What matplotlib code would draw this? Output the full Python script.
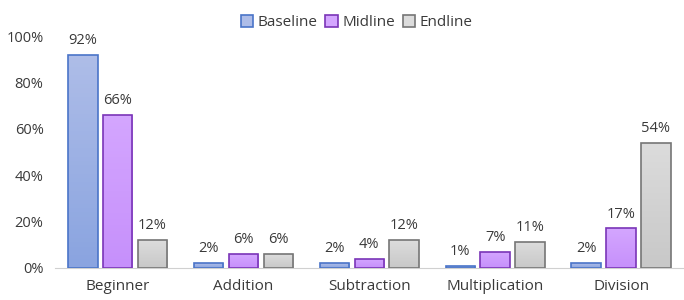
import numpy as np
import matplotlib.pyplot as plt
from matplotlib.colors import LinearSegmentedColormap
from matplotlib.patches import Patch

categories = ['Beginner', 'Addition', 'Subtraction', 'Multiplication', 'Division']
baseline = [92, 2, 2, 1, 2]
midline = [66, 6, 4, 7, 17]
endline = [12, 6, 12, 11, 54]

series = [
    ('Baseline', baseline, ('#aebde8', '#8aa4e0'), '#4a74c8'),
    ('Midline', midline, ('#d4a6ff', '#c690fb'), '#7a35b8'),
    ('Endline', endline, ('#dcdcdc', '#c8c8c8'), '#767676'),
]

plt.rcParams['font.family'] = ['Open Sans', 'DejaVu Sans']

fig = plt.figure(figsize=(6.84, 3.0), dpi=100)
ax = fig.add_axes([0.08, 0.107, 0.92, 0.773])

x = np.arange(len(categories))
width = 0.236
step = 0.277

handles = []
for i, (name, vals, grad, edge) in enumerate(series):
    pos = x + (i - 1) * step
    bars = ax.bar(pos, vals, width, facecolor='none', edgecolor=edge,
                  linewidth=1.2, zorder=3)
    cmap = LinearSegmentedColormap.from_list(name, [grad[1], grad[0]])
    # vertical gradient fill clipped to each bar
    for b in bars:
        bx, by = b.get_x(), b.get_y()
        w, h = b.get_width(), b.get_height()
        im = ax.imshow(np.linspace(0, 1, 50).reshape(-1, 1), cmap=cmap,
                       extent=[bx, bx + w, by, by + h], origin='lower',
                       aspect='auto', zorder=2)
        im.set_clip_path(b)
    for p, v in zip(pos, vals):
        ax.text(p, v + 3, f'{v}%', ha='center', va='bottom', fontsize=10.5,
                color='#3a3a3a')
    handles.append(Patch(facecolor=grad[0], edgecolor=edge, linewidth=1.2, label=name))

ax.set_xlim(-0.5, len(categories) - 0.5)
ax.set_ylim(0, 100)
ax.set_yticks(range(0, 101, 20))
ax.set_yticklabels([f'{t}%' for t in range(0, 101, 20)], fontsize=10.5, color='#3a3a3a')
ax.set_xticks(x)
ax.set_xticklabels(categories, fontsize=11, color='#3a3a3a')
ax.tick_params(axis='y', length=0, pad=8)
ax.tick_params(axis='x', length=0, pad=8)
for s in ['top', 'right', 'left']:
    ax.spines[s].set_visible(False)
ax.spines['bottom'].set_color('#d0d0d0')

ax.legend(handles=handles, loc='upper center', bbox_to_anchor=(0.48, 1.15), ncol=3,
          frameon=False, fontsize=11, handlelength=0.8, handleheight=0.8,
          handletextpad=0.3, columnspacing=0.5, labelcolor='#3a3a3a')

fig.savefig('out.png', dpi=100)
